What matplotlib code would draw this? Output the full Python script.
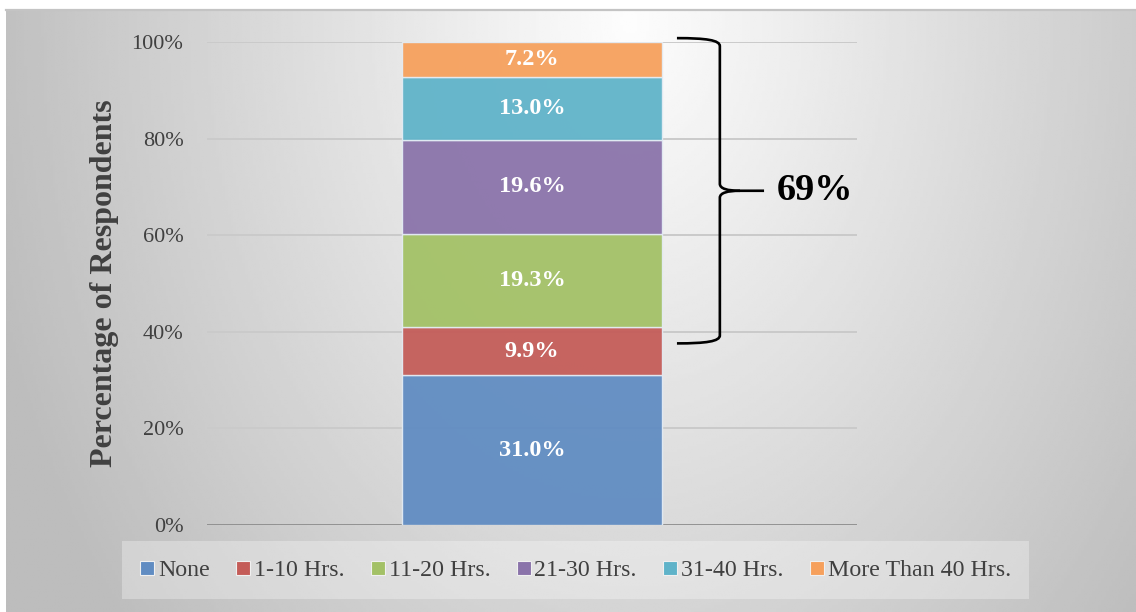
import numpy as np
import matplotlib
matplotlib.use("Agg")
import matplotlib.pyplot as plt
from matplotlib.lines import Line2D
from matplotlib.path import Path
from matplotlib.patches import PathPatch

plt.rcParams['font.family'] = ['Liberation Serif', 'DejaVu Serif']

# data
categories = ["None", "1-10 Hrs.", "11-20 Hrs.", "21-30 Hrs.", "31-40 Hrs.", "More Than 40 Hrs."]
values = [31.0, 9.9, 19.3, 19.6, 13.0, 7.2]
colors = ["#608CC2", "#C45C58", "#A3C166", "#8A73AA", "#5FB3C9", "#F6A05C"]
yticks = [0, 20, 40, 60, 80, 100]
ytick_labels = ["0%", "20%", "40%", "60%", "80%", "100%"]
brace_label = "69%"
brace_span = (37.6, 100.8)   # brace bottom / top in % units
brace_tip = 69.2

W, H = 1136, 612
fig = plt.figure(figsize=(W / 100, H / 100), dpi=100)

# gradient background (radial, light near the top centre)
bg = fig.add_axes([6 / W, 0, 1 - 6 / W, (H - 10) / H], zorder=-5)
nx, ny = 400, 220
xx, yy = np.meshgrid(np.linspace(6, W, nx), np.linspace(10, H, ny))
r = np.sqrt(((xx - 630) / 600) ** 2 + ((yy - 20) / 850) ** 2)
val = (253 - 58 * np.clip(r, 0, 1.1)) / 255.0
bg.imshow(val, cmap="gray", vmin=0, vmax=1, aspect="auto",
          extent=[0, 1, 0, 1], origin="upper", interpolation="bilinear")
bg.set_xlim(0, 1)
bg.set_ylim(0, 1)
bg.set_xticks([])
bg.set_yticks([])
for side in ["left", "right", "bottom"]:
    bg.spines[side].set_visible(False)
bg.spines["top"].set_color("#c4c4c4")
bg.spines["top"].set_linewidth(1.6)

ax = fig.add_axes([207 / W, 1 - 525 / H, 650 / W, (525 - 42) / H])
ax.patch.set_alpha(0)
ax.set_xlim(-0.5, 0.5)
ax.set_ylim(0, 100)

# grid
for t in yticks[1:]:
    ax.axhline(t, color="#cacaca", lw=1.4, zorder=1)
ax.axhline(0, color="#8c8c8c", lw=2.0, zorder=1)

bottom = 0
for v, c in zip(values, colors):
    ax.bar(0, v, bottom=bottom, width=0.4, color=c, alpha=0.94,
           edgecolor="#e4ecf4", linewidth=1.0, zorder=2)
    ax.text(0, bottom + v / 2, f"{v:.1f}%", ha="center", va="center",
            color="white", fontsize=17.5, fontweight="bold", zorder=3)
    bottom += v

ax.set_yticks(yticks)
ax.set_yticklabels(ytick_labels, fontsize=16, color="#404040")
ax.tick_params(axis="y", length=0, pad=17)
ax.set_xticks([])
for s in ax.spines.values():
    s.set_visible(False)
ax.set_ylabel("Percentage of Respondents", fontsize=23, fontweight="bold",
              color="#404040", labelpad=9)

# curly brace on the right
x0, x1, x2, xm = 0.223, 0.289, 0.357, 0.32
lo, hi = brace_span
k = 100 / 483.0   # % per pixel
top_half = Path(
    [(x0, hi), (x0 + 0.045, hi), (x1, hi - 2 * k), (x1, hi - 8 * k),
     (x1, brace_tip + 7 * k),
     (x1, brace_tip + 2 * k), (x1 + 0.012, brace_tip), (xm, brace_tip),
     (x2, brace_tip)],
    [Path.MOVETO, Path.CURVE4, Path.CURVE4, Path.CURVE4,
     Path.LINETO,
     Path.CURVE4, Path.CURVE4, Path.CURVE4,
     Path.LINETO])
bot_half = Path(
    [(x0, lo), (x0 + 0.045, lo), (x1, lo + 2 * k), (x1, lo + 8 * k),
     (x1, brace_tip - 7 * k),
     (x1, brace_tip - 2 * k), (x1 + 0.012, brace_tip), (xm, brace_tip)],
    [Path.MOVETO, Path.CURVE4, Path.CURVE4, Path.CURVE4,
     Path.LINETO,
     Path.CURVE4, Path.CURVE4, Path.CURVE4])
for p in (top_half, bot_half):
    ax.add_patch(PathPatch(p, fill=False, edgecolor="black", lw=1.9,
                           clip_on=False, zorder=4))
ax.text(0.377, brace_tip, brace_label, ha="left", va="center",
        fontsize=27.5, fontweight="bold", color="black")

# legend
handles = [Line2D([], [], marker="s", linestyle="none", markersize=9.5,
                  markerfacecolor=c, markeredgecolor="#f0f0f0", markeredgewidth=0.8)
           for c in colors]
leg = fig.legend(handles, categories, loc="center", ncol=6,
                 bbox_to_anchor=(575.5 / W, 1 - 570 / H),
                 fontsize=17.2, frameon=True, fancybox=False,
                 handlelength=0.6, handletextpad=0.15, columnspacing=1.1,
                 borderpad=0.75, borderaxespad=0)
for t in leg.get_texts():
    t.set_color("#404040")
frame = leg.get_frame()
frame.set_facecolor("white")
frame.set_alpha(0.3)
frame.set_edgecolor("none")

fig.savefig("out.png", dpi=100)
